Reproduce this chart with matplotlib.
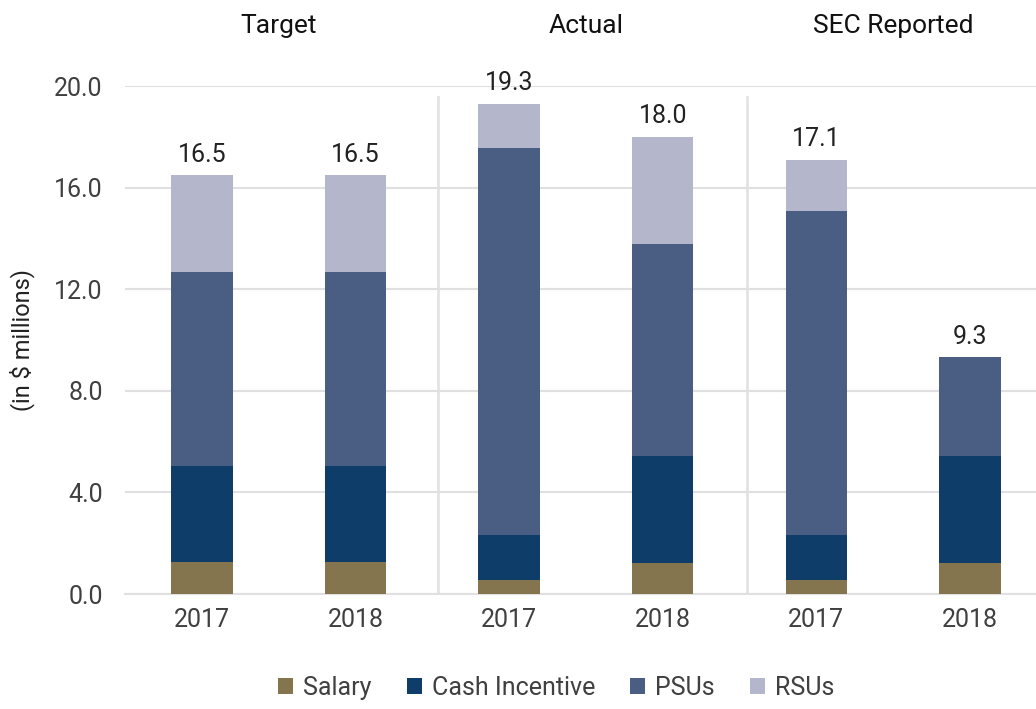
import matplotlib.pyplot as plt
import matplotlib.transforms as mtransforms
import numpy as np

plt.rcParams["font.family"] = ["Roboto", "DejaVu Sans"]

# ---------- data ----------
groups = ["Target", "Actual", "SEC Reported"]
years = ["2017", "2018", "2017", "2018", "2017", "2018"]
salary = [1.25, 1.25, 0.55, 1.22, 0.55, 1.22]
cash_incentive = [3.80, 3.80, 1.77, 4.21, 1.77, 4.21]
psus = [7.64, 7.64, 15.24, 8.35, 12.76, 3.90]
rsus = [3.81, 3.81, 1.74, 4.22, 2.02, 0.0]
yticks = [0, 4, 8, 12, 16, 20]

series = [("Salary", salary, "#85754e"),
          ("Cash Incentive", cash_incentive, "#0e3d69"),
          ("PSUs", psus, "#4a5e84"),
          ("RSUs", rsus, "#b4b7cb")]

# ---------- plot ----------
fig = plt.figure(figsize=(10.36, 7.09), dpi=100)
ax = fig.add_axes([0.1207, 0.1622, 0.8793, 0.7165])

x = np.arange(len(years))
bottom = np.zeros(len(years))
for name, vals, color in series:
    ax.bar(x, vals, width=0.40, bottom=bottom, color=color, label=name, zorder=3)
    bottom += np.array(vals)

for xi, tot in zip(x, bottom):
    ax.annotate(f"{tot:.1f}", (xi, tot), xytext=(0, 6), textcoords="offset points",
                ha="center", va="bottom", fontsize=18, color="#222222",
                annotation_clip=False)

# group separators and titles
for sx in [1.535, 3.55]:
    ax.plot([sx, sx], [0, 19.55], color="#e3e3e3", lw=2, zorder=1)
title_tf = mtransforms.blended_transform_factory(ax.transData, fig.transFigure)
for i, g in enumerate(groups):
    ax.text(2 * i + 0.5, 1.0 - 26 / 709, g, transform=title_tf,
            ha="center", va="center", fontsize=19, color="#111111")

ax.set_xlim(-0.5, 5.43)
ax.set_ylim(0, 20)
ax.set_xticks(x)
ax.set_xticklabels(years)
ax.set_yticks(yticks)
ax.set_yticklabels([f"{v:.1f}" for v in yticks])
ax.tick_params(axis="both", length=0, labelsize=18, colors="#404040")
ax.tick_params(axis="x", pad=10)
ax.tick_params(axis="y", pad=16)
ax.grid(axis="y", color="#e0e0e0", lw=1.5, zorder=0)
for s in ["top", "right", "left"]:
    ax.spines[s].set_visible(False)
ax.spines["bottom"].set_color("#e0e0e0")
ax.spines["bottom"].set_linewidth(1.5)
ax.set_ylabel("(in $ millions)", fontsize=17, color="#222222", labelpad=14)

fig.legend(loc="center", bbox_to_anchor=(0.537, 0.03), ncol=4, frameon=False,
           fontsize=18, handlelength=0.6, handleheight=0.6, handletextpad=0.4,
           columnspacing=1.4, labelcolor="#404040")

fig.savefig("out.png", dpi=100)
